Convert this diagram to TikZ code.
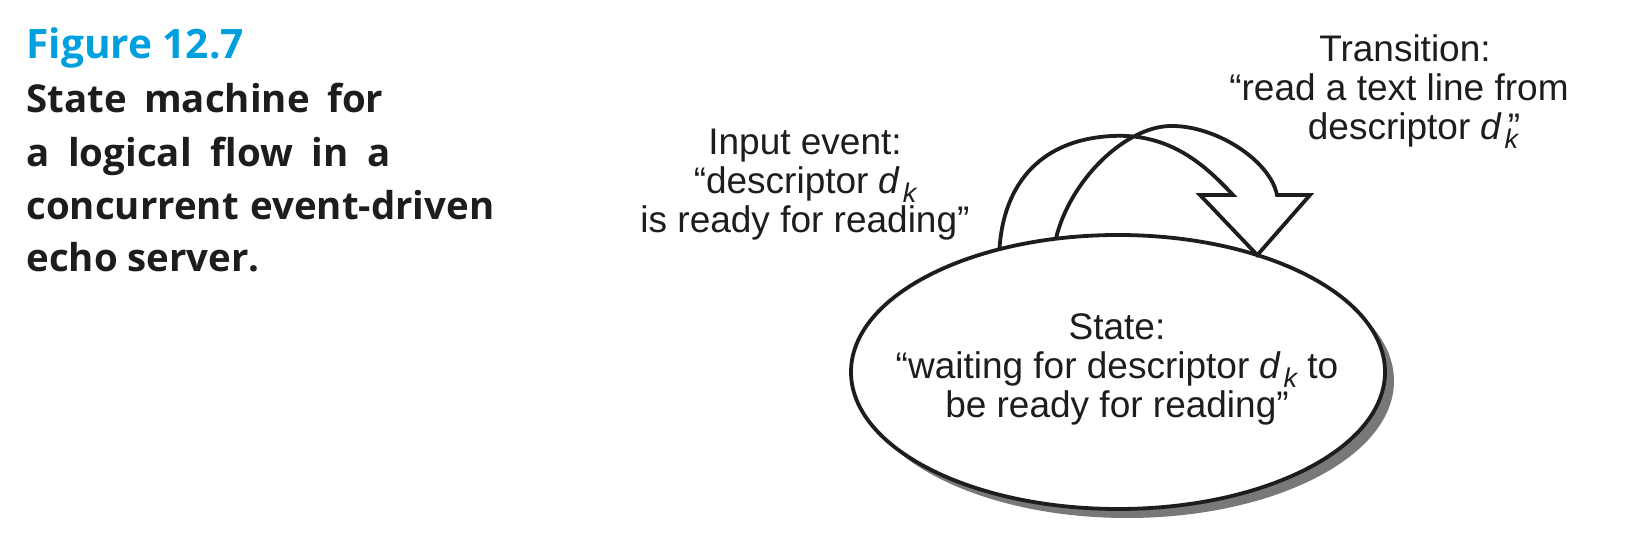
\documentclass[tikz,border=0pt]{standalone}
\usepackage{fontspec}
\usepackage{graphicx}
\setmainfont{Liberation Sans}
\newfontfamily\capfont{Open Sans}
\usetikzlibrary{shapes.geometric,shadows}
\definecolor{figblue}{RGB}{0,160,222}
\definecolor{shadowgray}{RGB}{120,120,120}
\definecolor{ink}{RGB}{30,28,28}
\newcommand{\subk}{\raisebox{-0.24em}{\fontsize{13.5}{13.5}\selectfont\itshape k}}
\newcommand{\dk}{\textit{d}\kern1.2pt\subk}
\newcommand{\dkq}{\textit{d}\kern1.2pt\rlap{\subk}\kern1.6pt”}
\begin{document}
\begin{tikzpicture}[x=0.5pt,y=-0.5pt,
  lbl/.style={font=\fontsize{18.5}{19.5}\selectfont, text=ink, inner sep=0pt, anchor=base},
  capfig/.style={font=\capfont\bfseries\fontsize{20.3}{24}\selectfont, text=figblue, inner sep=0pt, anchor=base west},
  capline/.style={font=\capfont\bfseries\fontsize{19.2}{24}\selectfont, text=ink, inner sep=0pt, anchor=base west},
  statebox/.style={ellipse, draw=ink, line width=1.9pt, fill=white, minimum width=267pt, minimum height=137pt, inner sep=0pt, outer sep=0pt,
    drop shadow={shadow xshift=4.5pt, shadow yshift=-4.5pt, fill=shadowgray, opacity=1}},
  arrowline/.style={draw=ink, line width=1.9pt, line join=miter}]
\useasboundingbox (0,0) rectangle (1646,544);

% caption
\node[capfig] (fig) at (26,59) {Figure 12.7};
\node[capline] (c1) at (26,113) {\makebox[178.5pt][s]{State machine for}};
\node[capline] (c2) at (26,167) {\makebox[182pt][s]{a logical flow in a}};
\node[capline] (c3) at (26,220) {concurrent\hspace{0.3em}event-driven};
\node[capline] (c4) at (26,272) {echo server.};

% state
\node[statebox] (state) at (1118,372) {};

% transition arrow
\coordinate (A) at (state.134.8);
\coordinate (B) at (state.115.3);
\coordinate (T) at (state.40.7);
\coordinate (L1) at (1233,195);
\coordinate (L2) at (1200,195);
\coordinate (R2) at (1310,195);
\coordinate (R1) at (1277,195);
\coordinate (TopL) at (1112,136);
\coordinate (TopR) at (1170,126);
\draw[arrowline] (A) .. controls (1003,190) and (1035,140) .. (TopL)
  .. controls (1170,133) and (1205,165) .. (L1) -- (L2) -- (T) -- (R2) -- (R1)
  .. controls (1270,160) and (1215,125) .. (TopR)
  .. controls (1125,127) and (1070,180) .. (B);

% labels
\node[lbl] (in1) at (805,155) {Input event:};
\node[lbl] (in2) at (805,194) {“descriptor \dk};
\node[lbl] (in3) at (805,233) {is ready for reading”};

\node[lbl] (tr1) at (1405,62) {Transition:};
\node[lbl] (tr2) at (1399,101) {“read a text line from};
\node[lbl] (tr3) at (1414,140) {descriptor \dkq};

\node[lbl] (st1) at (1117,340) {State:};
\node[lbl] (st2) at (1117,379) {“waiting for descriptor \dk\ to};
\node[lbl] (st3) at (1117,418) {be ready for reading”};
\end{tikzpicture}
\end{document}
